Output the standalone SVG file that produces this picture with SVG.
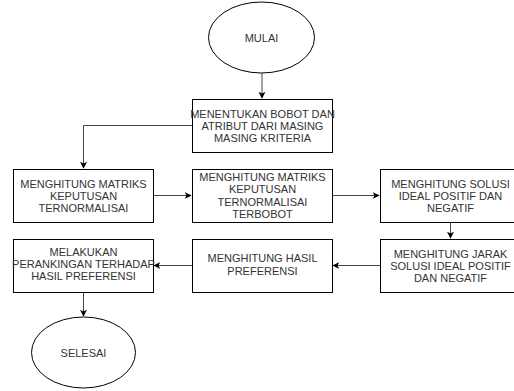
<svg xmlns="http://www.w3.org/2000/svg" width="514" height="391" viewBox="0 0 514 391">
<style>
.n{fill:#fff;stroke:#000;stroke-width:1}
.t{font-family:"Liberation Sans",Arial,sans-serif;font-size:11px;fill:#333;text-anchor:middle}
.c{fill:none;stroke:#444;stroke-width:1}
</style>
<defs>
<marker id="a" viewBox="0 0 10 10" refX="9" refY="5" markerWidth="7" markerHeight="7" markerUnits="userSpaceOnUse" orient="auto">
<path d="M0,0 L10,5 L0,10 L2.5,5 Z" fill="#000"/>
</marker>
</defs>
<rect width="514" height="391" fill="#fff"/>
<g id="connectors">
<path class="c" d="M262,73 V98" marker-end="url(#a)"/>
<path class="c" d="M192,125.5 H83.5 V168" marker-end="url(#a)"/>
<path class="c" d="M153,195.5 H191" marker-end="url(#a)"/>
<path class="c" d="M332,195.5 H379" marker-end="url(#a)"/>
<path class="c" d="M450.5,222 V238" marker-end="url(#a)"/>
<path class="c" d="M380,265.5 H333" marker-end="url(#a)"/>
<path class="c" d="M192,265.5 H154" marker-end="url(#a)"/>
<path class="c" d="M83.5,292 V316" marker-end="url(#a)"/>
</g>
<g id="mulai">
<ellipse class="n" cx="261.5" cy="37.5" rx="53" ry="35.5"/>
<text class="t" x="261.5" y="41.5">MULAI</text>
</g>
<g id="bobot">
<rect class="n" x="192.5" y="99.5" width="140" height="53"/>
<text class="t" x="262.5" y="118">MENENTUKAN BOBOT DAN</text>
<text class="t" x="262.5" y="130">ATRIBUT DARI MASING</text>
<text class="t" x="262.5" y="142">MASING KRITERIA</text>
</g>
<g id="normalisasi">
<rect class="n" x="13.5" y="169.5" width="140" height="53"/>
<text class="t" x="83.5" y="188">MENGHITUNG MATRIKS</text>
<text class="t" x="83.5" y="200">KEPUTUSAN</text>
<text class="t" x="83.5" y="212">TERNORMALISAI</text>
</g>
<g id="terbobot">
<rect class="n" x="192.5" y="169.5" width="140" height="53"/>
<text class="t" x="262.5" y="181">MENGHITUNG MATRIKS</text>
<text class="t" x="262.5" y="193">KEPUTUSAN</text>
<text class="t" x="262.5" y="206">TERNORMALISAI</text>
<text class="t" x="262.5" y="218">TERBOBOT</text>
</g>
<g id="solusi">
<rect class="n" x="380.5" y="169.5" width="140" height="53"/>
<text class="t" x="450.5" y="188">MENGHITUNG SOLUSI</text>
<text class="t" x="450.5" y="200">IDEAL POSITIF DAN</text>
<text class="t" x="450.5" y="212">NEGATIF</text>
</g>
<g id="jarak">
<rect class="n" x="380.5" y="239.5" width="140" height="53"/>
<text class="t" x="450.5" y="258">MENGHITUNG JARAK</text>
<text class="t" x="450.5" y="270">SOLUSI IDEAL POSITIF</text>
<text class="t" x="450.5" y="282">DAN NEGATIF</text>
</g>
<g id="preferensi">
<rect class="n" x="192.5" y="239.5" width="140" height="53"/>
<text class="t" x="262.5" y="262">MENGHITUNG HASIL</text>
<text class="t" x="262.5" y="275">PREFERENSI</text>
</g>
<g id="perankingan">
<rect class="n" x="13.5" y="239.5" width="140" height="53"/>
<text class="t" x="83.5" y="256">MELAKUKAN</text>
<text class="t" x="83.5" y="268">PERANKINGAN TERHADAP</text>
<text class="t" x="83.5" y="280">HASIL PREFERENSI</text>
</g>
<g id="selesai">
<ellipse class="n" cx="83.5" cy="352.5" rx="52" ry="35.5"/>
<text class="t" x="83.5" y="356.5">SELESAI</text>
</g>
</svg>
